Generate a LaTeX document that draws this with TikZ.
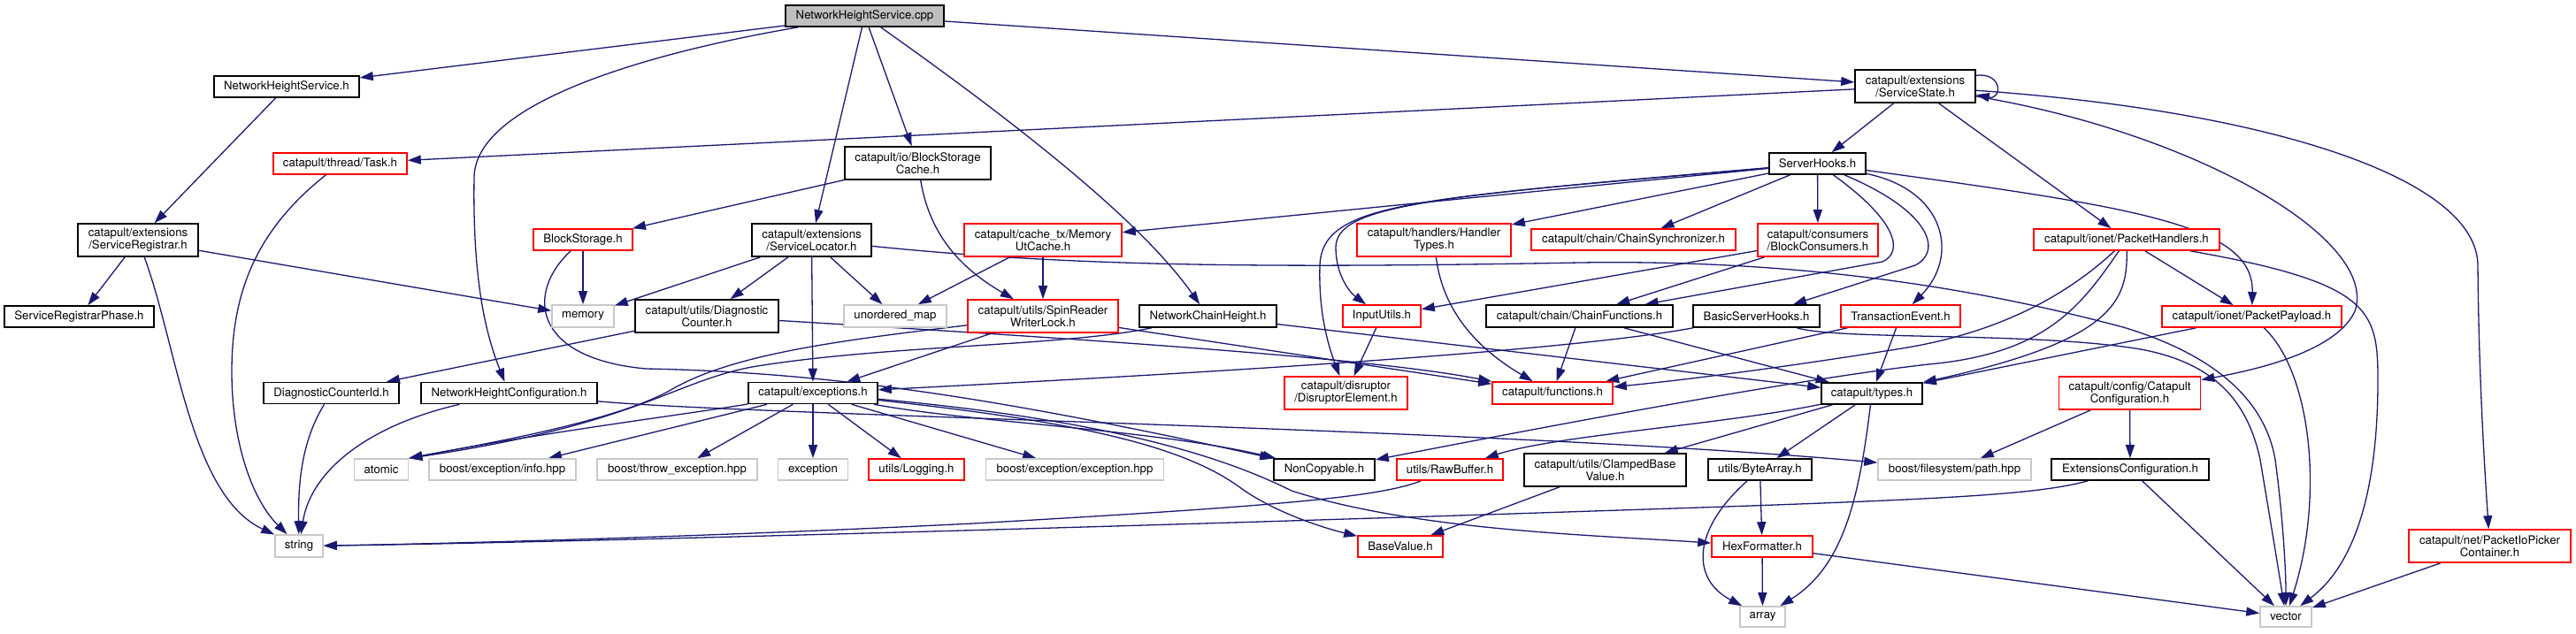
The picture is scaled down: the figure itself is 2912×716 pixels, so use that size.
\documentclass[tikz,border=0pt]{standalone}
\usepackage{fontspec}
\setmainfont{TeX Gyre Heros}
\usetikzlibrary{arrows.meta,backgrounds}
\definecolor{edgec}{HTML}{191970}
\definecolor{graybox}{HTML}{BFBFBF}
\definecolor{lgray}{HTML}{C8C8C8}
\definecolor{redbox}{HTML}{FF0000}
\begin{document}
\begin{tikzpicture}[x=1pt,y=-1pt,
  nd/.style={rectangle, draw, fill=white, line width=1.6pt, inner sep=0pt, align=center, font=\fontsize{13.2}{14}\selectfont},
  bk/.style={nd, draw=black},
  rd/.style={nd, draw=redbox},
  gy/.style={nd, draw=lgray},
  sz/.style 2 args={minimum width=#1pt, minimum height=#2pt},
  dep/.style={draw=edgec, line width=1.3pt, -{Triangle[length=15pt,width=10pt]}},
]
\useasboundingbox (0,0) rectangle (2912,716);
% nodes
\node[bk, sz={179}{24}, fill=graybox] (cpp) at (977.5,18) {NetworkHeightService.cpp};
\node[bk, sz={164}{24}] (nhs) at (324,98) {NetworkHeightService.h};
\node[bk, sz={136}{37}] (sstate) at (2165,97.5) {catapult/extensions\\/ServiceState.h};
\node[rd, sz={151}{24}] (task) at (384.5,185) {catapult/thread/Task.h};
\node[bk, sz={165}{37}] (bsc) at (1037.5,184.5) {catapult/io/BlockStorage\\Cache.h};
\node[bk, sz={109}{24}] (shooks) at (2054.5,185) {ServerHooks.h};
\node[bk, sz={136}{37}] (sreg) at (156,271.5) {catapult/extensions\\/ServiceRegistrar.h};
\node[rd, sz={112}{24}] (bstor) at (659,271) {BlockStorage.h};
\node[bk, sz={135}{37}] (sloc) at (917.5,271.5) {catapult/extensions\\/ServiceLocator.h};
\node[rd, sz={178}{37}] (mutc) at (1179,271.5) {catapult/cache\_tx/Memory\\UtCache.h};
\node[rd, sz={174}{37}] (htypes) at (1621,271.5) {catapult/handlers/Handler\\Types.h};
\node[rd, sz={231}{24}] (csync) at (1846.5,271) {catapult/chain/ChainSynchronizer.h};
\node[rd, sz={136}{37}] (bcons) at (2055,271.5) {catapult/consumers\\/BlockConsumers.h};
\node[rd, sz={210}{24}] (phand) at (2404,271) {catapult/ionet/PacketHandlers.h};
\node[bk, sz={169}{24}] (srphase) at (89.5,358) {ServiceRegistrarPhase.h};
\node[gy, sz={70}{25}] (memory) at (659,357.5) {memory};
\node[bk, sz={162}{37}] (diag) at (799,357.5) {catapult/utils/Diagnostic\\Counter.h};
\node[gy, sz={116}{25}] (umap) at (1012,357.5) {unordered\_map};
\node[rd, sz={170}{37}] (spin) at (1179,357.5) {catapult/utils/SpinReader\\WriterLock.h};
\node[bk, sz={155}{25}] (nch) at (1365.5,357.5) {NetworkChainHeight.h};
\node[rd, sz={88}{25}] (inpu) at (1562,357.5) {InputUtils.h};
\node[bk, sz={211}{25}] (cfunc) at (1785.5,357.5) {catapult/chain/ChainFunctions.h};
\node[bk, sz={143}{25}] (bsh) at (1985.5,357.5) {BasicServerHooks.h};
\node[rd, sz={135}{25}] (tevent) at (2148.5,357.5) {TransactionEvent.h};
\node[rd, sz={203}{24}] (ppay) at (2545.5,358) {catapult/ionet/PacketPayload.h};
\node[bk, sz={153}{24}] (dcid) at (374.5,444.5) {DiagnosticCounterId.h};
\node[bk, sz={199}{24}] (nhconf) at (575.5,444.5) {NetworkHeightConfiguration.h};
\node[bk, sz={146}{24}] (exc) at (919,444.5) {catapult/exceptions.h};
\node[rd, sz={139}{37}] (disr) at (1521.5,444.5) {catapult/disruptor\\/DisruptorElement.h};
\node[rd, sz={136}{25}] (funcs) at (1755,444.5) {catapult/functions.h};
\node[bk, sz={114}{24}] (types) at (2116,445) {catapult/types.h};
\node[rd, sz={160}{37}] (cconf) at (2407.5,444.5) {catapult/config/Catapult\\Configuration.h};
\node[gy, sz={61}{24}] (atomic) at (431,531) {atomic};
\node[gy, sz={166}{24}] (binfo) at (568,531) {boost/exception/info.hpp};
\node[gy, sz={181}{24}] (bthrow) at (765.5,531) {boost/throw\_exception.hpp};
\node[gy, sz={79}{24}] (excp) at (919,531) {exception};
\node[rd, sz={108}{24}] (logg) at (1036,531) {utils/Logging.h};
\node[gy, sz={201}{24}] (bexc) at (1215,531) {boost/exception/exception.hpp};
\node[bk, sz={114}{24}] (nonc) at (1497,531) {NonCopyable.h};
\node[rd, sz={120}{24}] (rawb) at (1639,531) {utils/RawBuffer.h};
\node[bk, sz={183}{37}] (clamp) at (1814.5,531.5) {catapult/utils/ClampedBase\\Value.h};
\node[bk, sz={117}{24}] (barr) at (1989.5,531) {utils/ByteArray.h};
\node[gy, sz={173}{24}] (bpath) at (2209.5,531) {boost/filesystem/path.hpp};
\node[bk, sz={178}{24}] (extconf) at (2408,531) {ExtensionsConfiguration.h};
\node[gy, sz={54}{25}] (string) at (338,617.5) {string};
\node[rd, sz={96}{24}] (bval) at (1583,618) {BaseValue.h};
\node[rd, sz={114}{24}] (hexf) at (1992,618) {HexFormatter.h};
\node[rd, sz={183}{37}] (pipc) at (2814.5,617.5) {catapult/net/PacketIoPicker\\Container.h};
\node[gy, sz={51}{23}] (array) at (1992.5,697.5) {array};
\node[gy, sz={58}{23}] (vector) at (2584,697.5) {vector};
% edges
\begin{pgfonlayer}{background}
\draw[dep] (cpp) -- (nhs);
\draw[dep] (cpp) -- (sstate);
\draw[dep] (cpp) .. controls (760,55) and (538,110) .. (536,200) .. controls (534,320) and (550,380) .. (nhconf);
\draw[dep] (cpp) -- (sloc);
\draw[dep] (cpp) -- (bsc);
\draw[dep] (cpp) .. controls (1150,140) and (1290,250) .. (nch);
\draw[dep] (nhs) -- (sreg);
\draw[dep] (sreg) -- (srphase);
\draw[dep] (sreg) .. controls (200,390) and (215,560) .. (string);
\draw[dep] (sreg) -- (memory);
\draw[dep] (task) .. controls (290,260) and (262,330) .. (262,420) .. controls (262,500) and (285,565) .. (string);
\draw[dep] (sstate.10) .. controls +(30,-4) and +(30,6) .. (sstate.-8);
\draw[dep] (sstate) -- (task);
\draw[dep] (sstate) -- (shooks);
\draw[dep] (sstate) -- (phand);
\draw[dep] (sstate) .. controls (2480,150) and (2690,270) .. (2662,352) .. controls (2640,400) and (2540,420) .. (cconf);
\draw[dep] (sstate) .. controls (2560,125) and (2800,200) .. (2801,300) .. controls (2802,420) and (2808,520) .. (pipc);
\draw[dep] (shooks) -- (mutc);
\draw[dep] (shooks) .. controls (1600,225) and (1495,228) .. (1492,300) .. controls (1490,360) and (1505,400) .. (disr);
\draw[dep] (shooks) .. controls (1620,222) and (1510,232) .. (1510,280) .. controls (1510,310) and (1525,330) .. (inpu);
\draw[dep] (shooks) -- (htypes);
\draw[dep] (shooks) -- (csync);
\draw[dep] (shooks) -- (bcons);
\draw[dep] (shooks) .. controls (2145,250) and (2152,285) .. (2128,296) -- (cfunc);
\draw[dep] (shooks) .. controls (2185,240) and (2195,285) .. (2165,300) -- (bsh);
\draw[dep] (shooks) .. controls (2200,215) and (2215,290) .. (tevent);
\draw[dep] (shooks) .. controls (2420,235) and (2548,255) .. (ppay);
\draw[dep] (bsc) -- (bstor);
\draw[dep] (bsc) .. controls (1050,260) and (1080,300) .. (spin);
\draw[dep] (bstor) -- (memory);
\draw[dep] (bstor) .. controls (595,330) and (600,405) .. (730,417) .. controls (950,421) and (1150,455) .. (nonc);
\draw[dep] (sloc) -- (memory);
\draw[dep] (sloc) -- (diag);
\draw[dep] (sloc) -- (umap);
\draw[dep] (sloc) -- (exc);
\draw[dep] (sloc) .. controls (1200,300) and (1400,304) .. (1786,297) .. controls (2050,293) and (2250,330) .. (2400,370) .. controls (2500,400) and (2560,450) .. (2572,520) .. controls (2580,580) and (2584,640) .. (vector);
\draw[dep] (mutc) -- (umap);
\draw[dep] (mutc) -- (spin);
\draw[dep] (diag) -- (dcid);
\draw[dep] (diag) .. controls (1250,385) and (1550,405) .. (funcs);
\draw[dep] (spin) -- (exc);
\draw[dep] (spin) .. controls (950,385) and (830,400) .. (760,440) .. controls (700,475) and (560,500) .. (atomic.north east);
\draw[dep] (spin) -- (funcs);
\draw[dep] (nch) .. controls (1200,392) and (1000,390) .. (850,415) .. controls (760,432) and (720,480) .. (atomic.north east);
\draw[dep] (nch) -- (types);
\draw[dep] (htypes) .. controls (1632,360) and (1680,400) .. (funcs);
\draw[dep] (bcons) -- (inpu);
\draw[dep] (bcons) -- (cfunc);
\draw[dep] (cfunc) -- (funcs);
\draw[dep] (cfunc) -- (types);
\draw[dep] (bsh) .. controls (1800,392) and (1500,415) .. (exc);
\draw[dep] (bsh) .. controls (2080,385) and (2300,375) .. (2420,395) .. controls (2500,410) and (2540,450) .. (2555,520) .. controls (2565,580) and (2575,640) .. (vector);
\draw[dep] (tevent) -- (funcs);
\draw[dep] (tevent) -- (types);
\draw[dep] (inpu) -- (disr);
\draw[dep] (phand) .. controls (2330,340) and (2250,378) .. (2150,394) .. controls (2000,418) and (1900,430) .. (funcs);
\draw[dep] (phand) .. controls (2350,350) and (2310,400) .. (2180,412) .. controls (2020,430) and (1720,488) .. (nonc);
\draw[dep] (phand) .. controls (2405,340) and (2390,385) .. (types);
\draw[dep] (phand) -- (ppay);
\draw[dep] (phand) .. controls (2680,320) and (2688,350) .. (2688,430) .. controls (2688,600) and (2640,655) .. (vector);
\draw[dep] (ppay) -- (types);
\draw[dep] (ppay) .. controls (2612,420) and (2628,560) .. (vector);
\draw[dep] (exc) .. controls (780,468) and (620,488) .. (atomic.north east);
\draw[dep] (exc) -- (binfo);
\draw[dep] (exc) -- (bthrow);
\draw[dep] (exc) -- (excp);
\draw[dep] (exc) -- (logg);
\draw[dep] (exc) -- (bexc);
\draw[dep] (exc) .. controls (1100,478) and (1300,485) .. (nonc);
\draw[dep] (exc) .. controls (1200,475) and (1330,500) .. (1400,550) .. controls (1440,580) and (1500,598) .. (bval);
\draw[dep] (exc) .. controls (1250,475) and (1380,515) .. (1460,555) .. controls (1600,600) and (1800,605) .. (hexf);
\draw[dep] (types) .. controls (1950,480) and (1760,492) .. (rawb);
\draw[dep] (types) -- (clamp);
\draw[dep] (types) -- (barr);
\draw[dep] (types) .. controls (2102,560) and (2085,640) .. (array);
\draw[dep] (rawb) .. controls (1560,562) and (1450,572) .. (1100,592) .. controls (800,607) and (500,615) .. (string);
\draw[dep] (clamp) -- (bval);
\draw[dep] (barr) -- (hexf);
\draw[dep] (barr) .. controls (1912,600) and (1912,655) .. (array);
\draw[dep] (hexf) -- (array);
\draw[dep] (hexf) -- (vector);
\draw[dep] (nhconf) .. controls (420,480) and (352,530) .. (string);
\draw[dep] (nhconf) .. controls (850,470) and (1700,485) .. (bpath);
\draw[dep] (dcid) .. controls (340,500) and (337,550) .. (string);
\draw[dep] (cconf) -- (bpath);
\draw[dep] (cconf) -- (extconf);
\draw[dep] (extconf) .. controls (2300,560) and (2200,565) .. (1800,578) .. controls (1200,598) and (600,614) .. (string);
\draw[dep] (extconf) -- (vector);
\draw[dep] (pipc) -- (vector);
\end{pgfonlayer}
\end{tikzpicture}
\end{document}
